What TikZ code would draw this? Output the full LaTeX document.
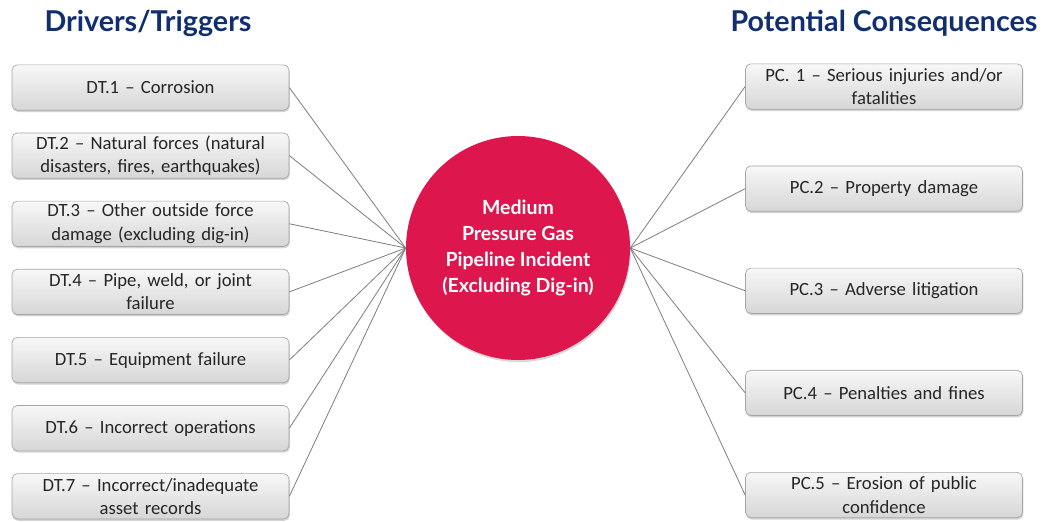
\documentclass[tikz,border=0pt]{standalone}
\usepackage{fontspec}
\setmainfont{Carlito}
\newfontfamily\tittelfont{Lato}
\usetikzlibrary{positioning,shadows}
\definecolor{marine}{RGB}{16,46,112}
\definecolor{karmin}{RGB}{222,22,78}
\definecolor{ramme}{RGB}{165,165,165}
\definecolor{strek}{RGB}{125,125,125}
\tikzset{
    boks/.style={
           rectangle, rounded corners=4pt,
           draw=ramme, line width=0.5pt,
           top color=white!97!black, bottom color=white!84!black,
           drop shadow={shadow xshift=0.6pt, shadow yshift=-1.4pt, opacity=0.35},
           minimum width=207.75pt, minimum height=34pt,
           inner sep=0.5pt, text width=200pt,
           align=center,
           text=black!85,
           font=\fontsize{14}{17.5}\selectfont},
    sirkel/.style={
           circle,
           fill=karmin,
           drop shadow={shadow xshift=0.6pt, shadow yshift=-1.6pt, opacity=0.3},
           minimum size=168pt,
           inner sep=0pt,
           align=center, text=white,
           font=\tittelfont\bfseries\fontsize{14.6}{19.3}\selectfont},
    linje/.style={
           draw=strek,
           line width=0.6pt},
    overskrift/.style={
           text=marine,
           font=\tittelfont\bfseries\fontsize{21.5}{24}\selectfont}
}
\begin{document}
\begin{tikzpicture}[x=0.75pt, y=-0.75pt, node distance=16.6pt]
        \useasboundingbox (0,0) rectangle (1045,521);

        \node[overskrift] (drivere) at (148,23) {Drivers/Triggers};
        \node[overskrift] (konsekvenser) at (884,23) {Potential Consequences};

        \node[sirkel] (hendelse) at (518,248) {Medium\\Pressure Gas\\Pipeline Incident\\(Excluding Dig-in)};

        % drivers / triggers
        \node[boks] (dt1) at (150.5,87.5) {DT.1 -- Corrosion};
        \node[boks, below=of dt1] (dt2) {DT.2 -- Natural forces (natural\\disasters, fires, earthquakes)};
        \node[boks, below=of dt2] (dt3) {DT.3 -- Other outside force\\damage (excluding dig-in)};
        \node[boks, below=of dt3] (dt4) {DT.4 -- Pipe, weld, or joint\\failure};
        \node[boks, below=of dt4] (dt5) {DT.5 -- Equipment failure};
        \node[boks, below=of dt5] (dt6) {DT.6 -- Incorrect operations};
        \node[boks, below=of dt6] (dt7) {DT.7 -- Incorrect/inadequate\\asset records};

        % potential consequences
        \node[boks] (pc1) at (884,86.5) {PC. 1 -- Serious injuries and/or\\fatalities};
        \node[boks, below=42.1pt of pc1] (pc2) {PC.2 -- Property damage};
        \node[boks, below=42.1pt of pc2] (pc3) {PC.3 -- Adverse litigation};
        \node[boks, below=42.1pt of pc3] (pc4) {PC.4 -- Penalties and fines};
        \node[boks, below=42.1pt of pc4] (pc5) {PC.5 -- Erosion of public\\confidence};

        \foreach \i in {1,...,7}
            \draw[linje] (dt\i.east) -- (hendelse.west);
        \foreach \i in {1,...,5}
            \draw[linje] (hendelse.east) -- (pc\i.west);
    \end{tikzpicture}
\end{document}
